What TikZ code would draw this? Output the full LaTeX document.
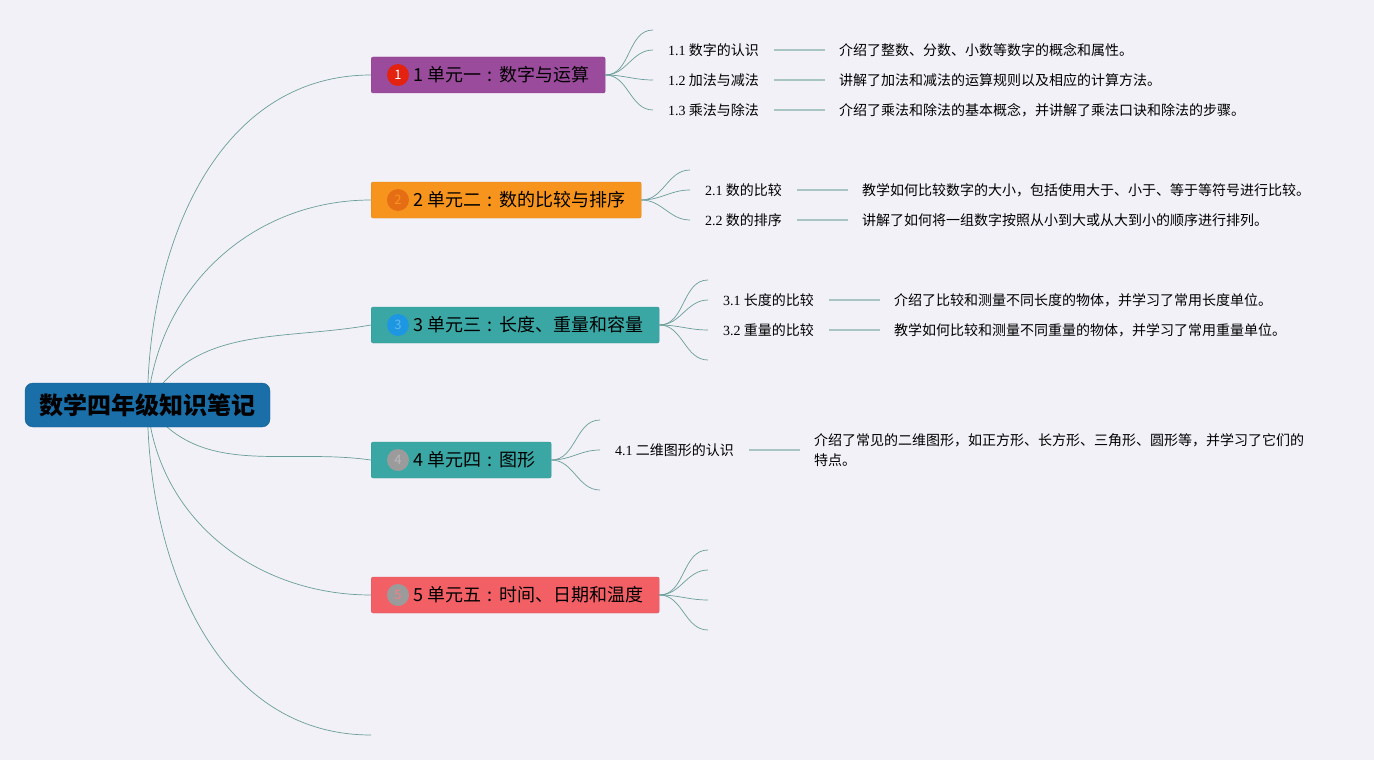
\documentclass[tikz,border=0pt]{standalone}
\usepackage{fontspec}
\setmainfont{Noto Sans CJK SC}
\newfontfamily\serifnum{Liberation Serif}
\newcommand\fwcolon{\makebox[1em][c]{:}}
\usetikzlibrary{positioning,backgrounds}
\definecolor{paper}{HTML}{F2F1F8}
\definecolor{rootblue}{HTML}{1A6FA8}
\definecolor{unitpurple}{HTML}{9B4B9C}
\definecolor{unitorange}{HTML}{F7941D}
\definecolor{unitteal}{HTML}{3BA7A4}
\definecolor{unitsalmon}{HTML}{F26066}
\definecolor{badgered}{HTML}{E3230F}
\definecolor{badgeorange}{HTML}{E56E14}
\definecolor{badgeblue}{HTML}{1E97E3}
\definecolor{badgegray}{HTML}{9B9B9B}
\definecolor{limbline}{HTML}{6A9E9A}
\definecolor{tieline}{HTML}{A8C4C3}
\tikzset{
  rootbox/.style={fill=rootblue, draw=rootblue!85!black, rounded corners=8pt,
    minimum width=245pt, minimum height=44pt, font=\fontsize{24}{26}\selectfont\bfseries},
  unitbox/.style={fill=#1, draw=#1!90!black, rounded corners=2pt, anchor=west,
    minimum height=36pt, inner xsep=16pt, font=\fontsize{18}{20}\selectfont},
  badge/.style={circle, fill=#1, minimum size=22pt, inner sep=0pt,
    font=\fontsize{13}{13}\selectfont},
  limb/.style={draw=limbline, line width=0.7pt},
  twig/.style={draw=limbline, line width=0.7pt},
  topic/.style={anchor=west, inner sep=0pt, font=\fontsize{14}{20}\selectfont},
  note/.style={inner sep=0pt, align=left, font=\fontsize{14}{20}\selectfont},
  tie/.style={draw=tieline, line width=1.6pt, shorten <=15pt, shorten >=14pt},
}
\begin{document}
\begin{tikzpicture}[x=1pt, y=-1pt]
\begin{pgfonlayer}{background}
\fill[paper] (0,0) rectangle (1374,760);
\end{pgfonlayer}
\useasboundingbox (0,0) rectangle (1374,760);

\node[rootbox] (root) at (147.5,405) {数学四年级知识笔记};

\node[unitbox=unitpurple] (b1) at (371,75) {\hspace*{26pt}1 单元一\fwcolon 数字与运算};
\node[unitbox=unitorange] (b2) at (371,200) {\hspace*{26pt}2 单元二\fwcolon 数的比较与排序};
\node[unitbox=unitteal] (b3) at (371,325) {\hspace*{26pt}3 单元三\fwcolon 长度、重量和容量};
\node[unitbox=unitteal] (b4) at (371,460) {\hspace*{26pt}4 单元四\fwcolon 图形};
\node[unitbox=unitsalmon] (b5) at (371,595) {\hspace*{26pt}5 单元五\fwcolon 时间、日期和温度};
\coordinate (b6) at (371,735);

\node[badge=badgered, text=white] (i1) at ([xshift=27pt]b1.west) {1};
\node[badge=badgeorange, text=unitorange] (i2) at ([xshift=27pt]b2.west) {2};
\node[badge=badgeblue, text=badgeblue!70!white] (i3) at ([xshift=27pt]b3.west) {3};
\node[badge=badgegray, text=badgegray!70!white] (i4) at ([xshift=27pt]b4.west) {4};
\node[badge=badgegray, text=unitsalmon!80!white] (i5) at ([xshift=27pt]b5.west) {5};

\begin{pgfonlayer}{background}
\draw[limb] (root.center) to[out=90, in=180] (b1.west);
\draw[limb] (root.center) to[out=85, in=180] (b2.west);
\draw[limb] (root.center) to[out=60, in=190] (b3.west);
\draw[limb] (root.center) to[out=-55, in=172] (b4.west);
\draw[limb] (root.center) to[out=-85, in=180] (b5.west);
\draw[limb] (root.center) to[out=-90, in=180] (b6);
\end{pgfonlayer}

\foreach \y [count=\i] in {30,50,80,110} \coordinate (e1\i) at (653,\y);
\foreach \y [count=\i] in {170,190,220} \coordinate (e2\i) at (690,\y);
\foreach \y [count=\i] in {280,300,330,360} \coordinate (e3\i) at (708,\y);
\foreach \y [count=\i] in {420,450,490} \coordinate (e4\i) at (600,\y);
\foreach \y [count=\i] in {550,570,600,630} \coordinate (e5\i) at (708,\y);

\foreach \i in {1,...,4} \draw[twig] (b1.east) to[out=0, in=180] (e1\i);
\foreach \i in {1,...,3} \draw[twig] (b2.east) to[out=0, in=180] (e2\i);
\foreach \i in {1,...,4} \draw[twig] (b3.east) to[out=0, in=180] (e3\i);
\foreach \i in {1,...,3} \draw[twig] (b4.east) to[out=0, in=180] (e4\i);
\foreach \i in {1,...,4} \draw[twig] (b5.east) to[out=0, in=180] (e5\i);

\node[topic, right=15pt of e12] (t11) {{\serifnum 1.1} 数字的认识};
\node[topic, right=15pt of e13] (t12) {{\serifnum 1.2} 加法与减法};
\node[topic, right=15pt of e14] (t13) {{\serifnum 1.3} 乘法与除法};
\node[topic, right=15pt of e22] (t21) {{\serifnum 2.1} 数的比较};
\node[topic, right=15pt of e23] (t22) {{\serifnum 2.2} 数的排序};
\node[topic, right=15pt of e32] (t31) {{\serifnum 3.1} 长度的比较};
\node[topic, right=15pt of e33] (t32) {{\serifnum 3.2} 重量的比较};
\node[topic, right=15pt of e42] (t41) {{\serifnum 4.1} 二维图形的认识};

\node[note, right=80pt of t11] (d11) {介绍了整数、分数、小数等数字的概念和属性。};
\node[note, right=80pt of t12] (d12) {讲解了加法和减法的运算规则以及相应的计算方法。};
\node[note, right=80pt of t13] (d13) {介绍了乘法和除法的基本概念，并讲解了乘法口诀和除法的步骤。};
\node[note, right=80pt of t21] (d21) {教学如何比较数字的大小，包括使用大于、小于、等于等符号进行比较。};
\node[note, right=80pt of t22] (d22) {讲解了如何将一组数字按照从小到大或从大到小的顺序进行排列。};
\node[note, right=80pt of t31] (d31) {介绍了比较和测量不同长度的物体，并学习了常用长度单位。};
\node[note, right=80pt of t32] (d32) {教学如何比较和测量不同重量的物体，并学习了常用重量单位。};
\node[note, right=80pt of t41] (d41) {介绍了常见的二维图形，如正方形、长方形、三角形、圆形等，并学习了它们的\\特点。};

\foreach \n in {11,12,13,21,22,31,32,41} \draw[tie] (t\n) -- (d\n);
\end{tikzpicture}
\end{document}
